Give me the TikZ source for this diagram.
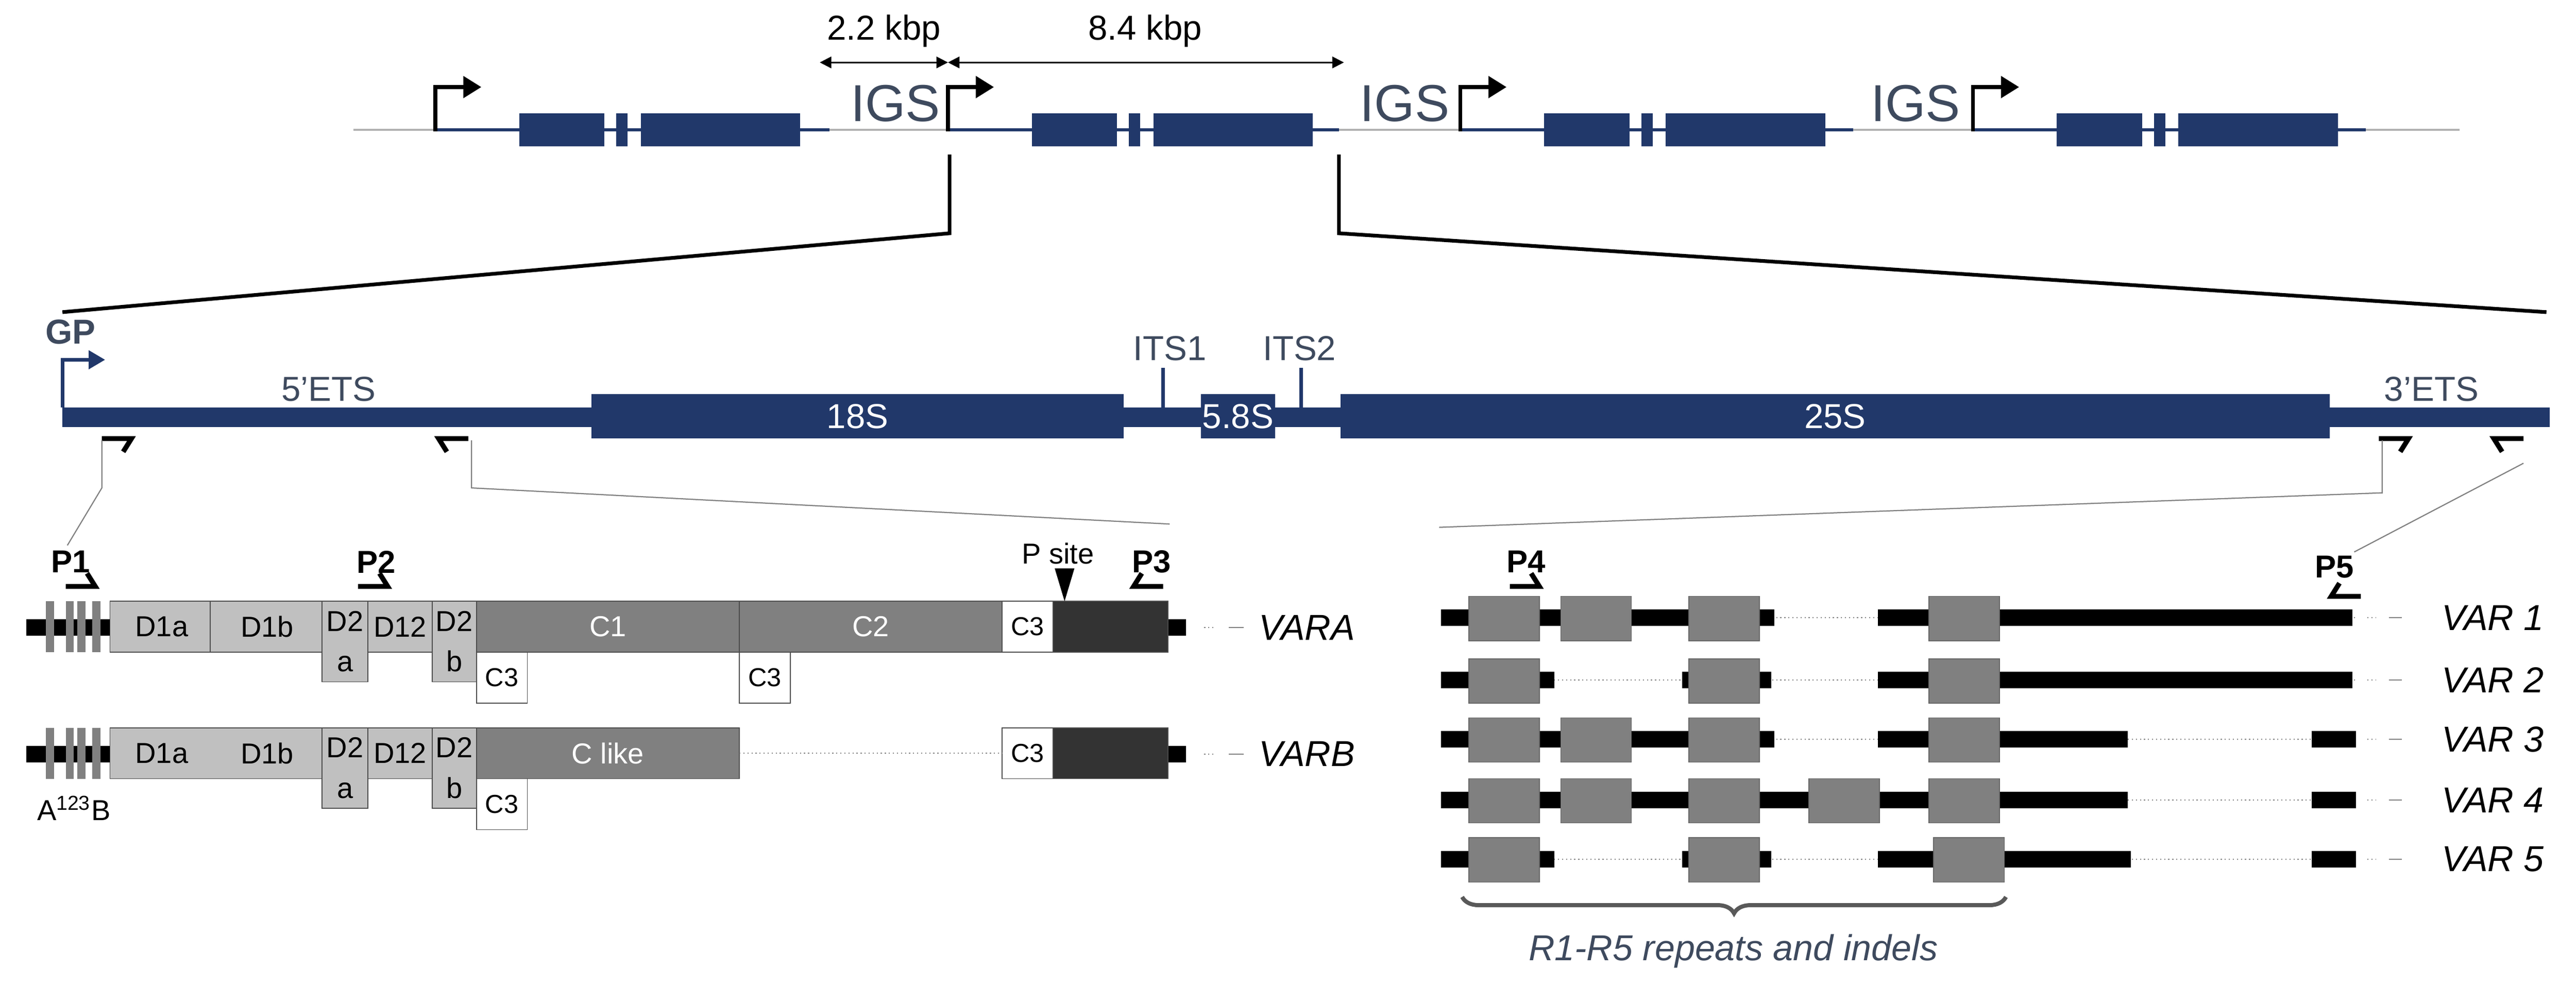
\documentclass[tikz,border=0pt]{standalone}
\usepackage{fontspec}
\setmainfont{Liberation Sans}
\usepackage{xcolor}
\usetikzlibrary{arrows.meta,positioning,calc,decorations.pathreplacing}
\definecolor{navy}{HTML}{21386A}
\definecolor{slate}{HTML}{3E4A5E}
\definecolor{lgray}{HTML}{C0C0C0}
\definecolor{mgray}{HTML}{808080}
\definecolor{dgray}{HTML}{333333}
\tikzset{
  box/.style={draw=black!70, line width=0.3pt},
  dom/.style={box, fill=lgray, font=\fontsize{10}{11}\selectfont},
  cdom/.style={box, fill=mgray, text=white, font=\fontsize{10}{11}\selectfont},
  cthree/.style={box, fill=white, font=\fontsize{9}{10}\selectfont},
  rep/.style={draw=black!60, line width=0.3pt, fill=mgray},
  gene/.style={fill=navy},
  bar/.style={line width=0.2cm},
  gap/.style={densely dotted, gray, line width=0.4pt},
  primer/.style={line width=0.06cm, miter limit=10},
  bent/.style={line width=0.045cm, -{Triangle[length=0.22cm,width=0.26cm]}},
  zoomline/.style={line width=0.045cm},
  guide/.style={gray, line width=0.4pt},
  lab/.style={font=\fontsize{11}{12}\selectfont\bfseries},
  var/.style={font=\fontsize{12.5}{13}\selectfont\itshape, anchor=west},
}
% box from (x1,y1) to (x2,y2), picture units
\newcommand\blk[7][]{\node[#1, inner sep=0pt, outer sep=0pt, minimum width={((#4)-(#2))*0.02cm}, minimum height={((#5)-(#3))*0.02cm}, anchor=north west] (#6) at (#2,#3) {#7};}
\newcommand\primer[4]{\draw[primer] (#1,#2) -- ++(#3*18,0) -- ++(-#3*5,#4*8);}
\begin{document}
\begin{tikzpicture}[x=0.02cm, y=-0.02cm]
\useasboundingbox (0,0) rectangle (1568,600);

% rDNA array
\draw[gray!60, line width=0.6pt] (215,79) -- (1497,79);
\foreach \u/\e [count=\i] in {0/505, 312/815, 624/1128, 936/1440} {
  \draw[navy, line width=0.04cm] (265+\u,79) -- (\e,79);
  \blk[gene]{316+\u}{69}{368+\u}{89}{s\i}{}
  \blk[gene]{375+\u}{69}{382+\u}{89}{m\i}{}
  \blk[gene]{390+\u}{69}{487+\u}{89}{l\i}{}
  \coordinate (tss\i) at (265+\u,80);
  \draw[bent] (tss\i) |- ++(28,-27);
}
\foreach \x in {545,855,1166}
  \node[text=slate, font=\fontsize{18}{19}\selectfont] at (\x,63) {IGS};

% unit lengths
\coordinate (d1) at (499,38);
\coordinate (d2) at (577,38);
\coordinate (d3) at (818,38);
\draw[line width=0.5pt, {Triangle[length=0.14cm,width=0.14cm]}-{Triangle[length=0.14cm,width=0.14cm]}] (d1) -- (d2);
\draw[line width=0.5pt, {Triangle[length=0.14cm,width=0.14cm]}-{Triangle[length=0.14cm,width=0.14cm]}] (d2) -- (d3);
\node[font=\fontsize{12}{13}\selectfont] at (538,19) {2.2 kbp};
\node[font=\fontsize{12}{13}\selectfont] at (697,19) {8.4 kbp};

% zoom to one unit
\coordinate (zl) at (578,94);
\coordinate (zr) at (815,94);
\draw[zoomline] (zl) -- ++(0,48) -- (38,190);
\draw[zoomline] (zr) -- ++(0,48) -- (1550,190);

% transcription unit
\draw[navy, line width=0.24cm] (38,254) -- (1552,254);
\blk[gene, text=white, font=\fontsize{12}{13}\selectfont]{360}{240}{684}{267}{r18}{18S}
\blk[gene, text=white, font=\fontsize{12}{13}\selectfont]{731}{240}{776}{267}{r58}{5.8S}
\blk[gene, text=white, font=\fontsize{12}{13}\selectfont]{816}{240}{1418}{267}{r25}{25S}
\draw[navy, line width=0.04cm] (708,248) -- (708,224);
\draw[navy, line width=0.04cm] (792,248) -- (792,224);
\node[text=slate, font=\fontsize{12}{13}\selectfont] at (712,212) {ITS1};
\node[text=slate, font=\fontsize{12}{13}\selectfont] at (791,212) {ITS2};
\node[text=slate, font=\fontsize{12}{13}\selectfont] at (200,237) {5'ETS};
\node[text=slate, font=\fontsize{12}{13}\selectfont] at (1480,237) {3'ETS};
\node[text=slate, font=\fontsize{12}{13}\selectfont\bfseries] (gp) at (43,202) {GP};
\coordinate (gptss) at (38,248);
\draw[bent, navy, -{Triangle[length=0.2cm,width=0.22cm]}] (gptss) |- ++(26,-29);

% primers on the unit
\primer{62}{267}{1}{1}
\primer{285}{267}{-1}{1}
\primer{1448}{267}{1}{1}
\primer{1536}{267}{-1}{1}
\draw[guide] (62,268) -- (62,297) -- (41,332);
\draw[guide] (287,268) -- (287,297) -- (712,319);
\draw[guide] (1450,268) -- (1450,300) -- (876,321);
\draw[guide] (1536,282) -- (1433,336);

% 5'ETS variants
\foreach \y/\n in {366/A, 443/B} {
  \draw[bar] (16,\y+16) -- (68,\y+16);
  \draw[bar] (710,\y+16) -- (722,\y+16);
  \foreach \x in {28,40,47,56} \fill[mgray] (\x,\y) rectangle (\x+5,\y+31);
  \blk[dom]{67}{\y}{198}{\y+31}{d1\n}{}
  \node at ($(d1\n.west)!0.24!(d1\n.east)$) [font=\fontsize{10}{11}\selectfont] {D1a};
  \node at ($(d1\n.west)!0.73!(d1\n.east)$) [font=\fontsize{10}{11}\selectfont] {D1b};
  \blk[dom, align=center]{196}{\y}{224}{\y+49}{d2a\n}{D2\\[3pt]a}
  \blk[dom]{224}{\y}{263}{\y+31}{d12\n}{D12}
  \blk[dom, align=center]{263}{\y}{290}{\y+49}{d2b\n}{D2\\[3pt]b}
  \blk[cthree]{290}{\y+31}{321}{\y+62}{c3x\n}{C3}
  \blk[cthree]{610}{\y}{641}{\y+31}{c3y\n}{C3}
  \blk[box, fill=dgray]{641}{\y}{711}{\y+31}{e\n}{}
  \draw[gap] (733,\y+16) -- (740,\y+16);
  \draw[gray, line width=0.4pt] (748,\y+16) -- (757,\y+16);
}
\draw[line width=0.3pt, black!70] (128,366) -- (128,397);
\blk[cdom]{290}{366}{450}{397}{c1}{C1}
\blk[cdom]{450}{366}{610}{397}{c2}{C2}
\blk[cthree]{450}{397}{481}{428}{c3z}{C3}
\blk[cdom]{290}{443}{450}{474}{cl}{C like}
\draw[gap] (cl.east) -- (c3yB.west);
\node[var] at (760,382) {VARA};
\node[var] at (760,459) {VARB};
\node[font=\fontsize{10}{11}\selectfont] at (45,492) {A\textsuperscript{123}B};

\node[lab] (p1) at (43,342) {P1};
\node[lab] (p2) at (229,342) {P2};
\node[lab] (p3) at (701,342) {P3};
\primer{40}{357}{1}{-1}
\primer{218}{357}{1}{-1}
\primer{708}{357}{-1}{-1}
\node[font=\fontsize{10}{11}\selectfont] (ps) at (644,337) {P site};
\fill (642,346) -- (654,346) -- (648,366) -- cycle;

% 3'ETS variants
\foreach \y/\segs/\reps [count=\v] in {
  376/{877/1080,1143/1432}/{894,950,1028,1174},
  414/{877/946,1024/1078,1143/1432}/{894,1028,1174},
  450/{877/1080,1143/1295,1407/1434}/{894,950,1028,1174},
  487/{877/1295,1407/1434}/{894,950,1028,1101,1174},
  523/{877/946,1024/1078,1143/1297,1407/1434}/{894,1028,1177}} {
  \draw[gap] (877,\y) -- (1434,\y);
  \foreach \a/\b in \segs \draw[bar] (\a,\y) -- (\b,\y);
  \foreach \x in \reps \draw[rep] (\x,\y-13) rectangle (\x+43,\y+14);
  \draw[gap] (1441,\y) -- (1446,\y);
  \draw[gray, line width=0.4pt] (1454,\y) -- (1462,\y);
  \node[var] (var\v) at (1480,\y) {VAR \v};
}
\node[lab] (p4) at (929,342) {P4};
\node[lab] (p5) at (1421,345) {P5};
\primer{919}{357}{1}{-1}
\primer{1437}{363}{-1}{-1}

\coordinate (bl) at (890,546);
\coordinate (br) at (1221,546);
\draw[black!65, line width=0.05cm, decorate, decoration={brace, mirror, amplitude=0.2cm}] (bl) -- (br);
\node[text=slate, font=\fontsize{12.5}{13}\selectfont\itshape] (rl) at (1055,579) {R1-R5 repeats and indels};
\end{tikzpicture}
\end{document}
